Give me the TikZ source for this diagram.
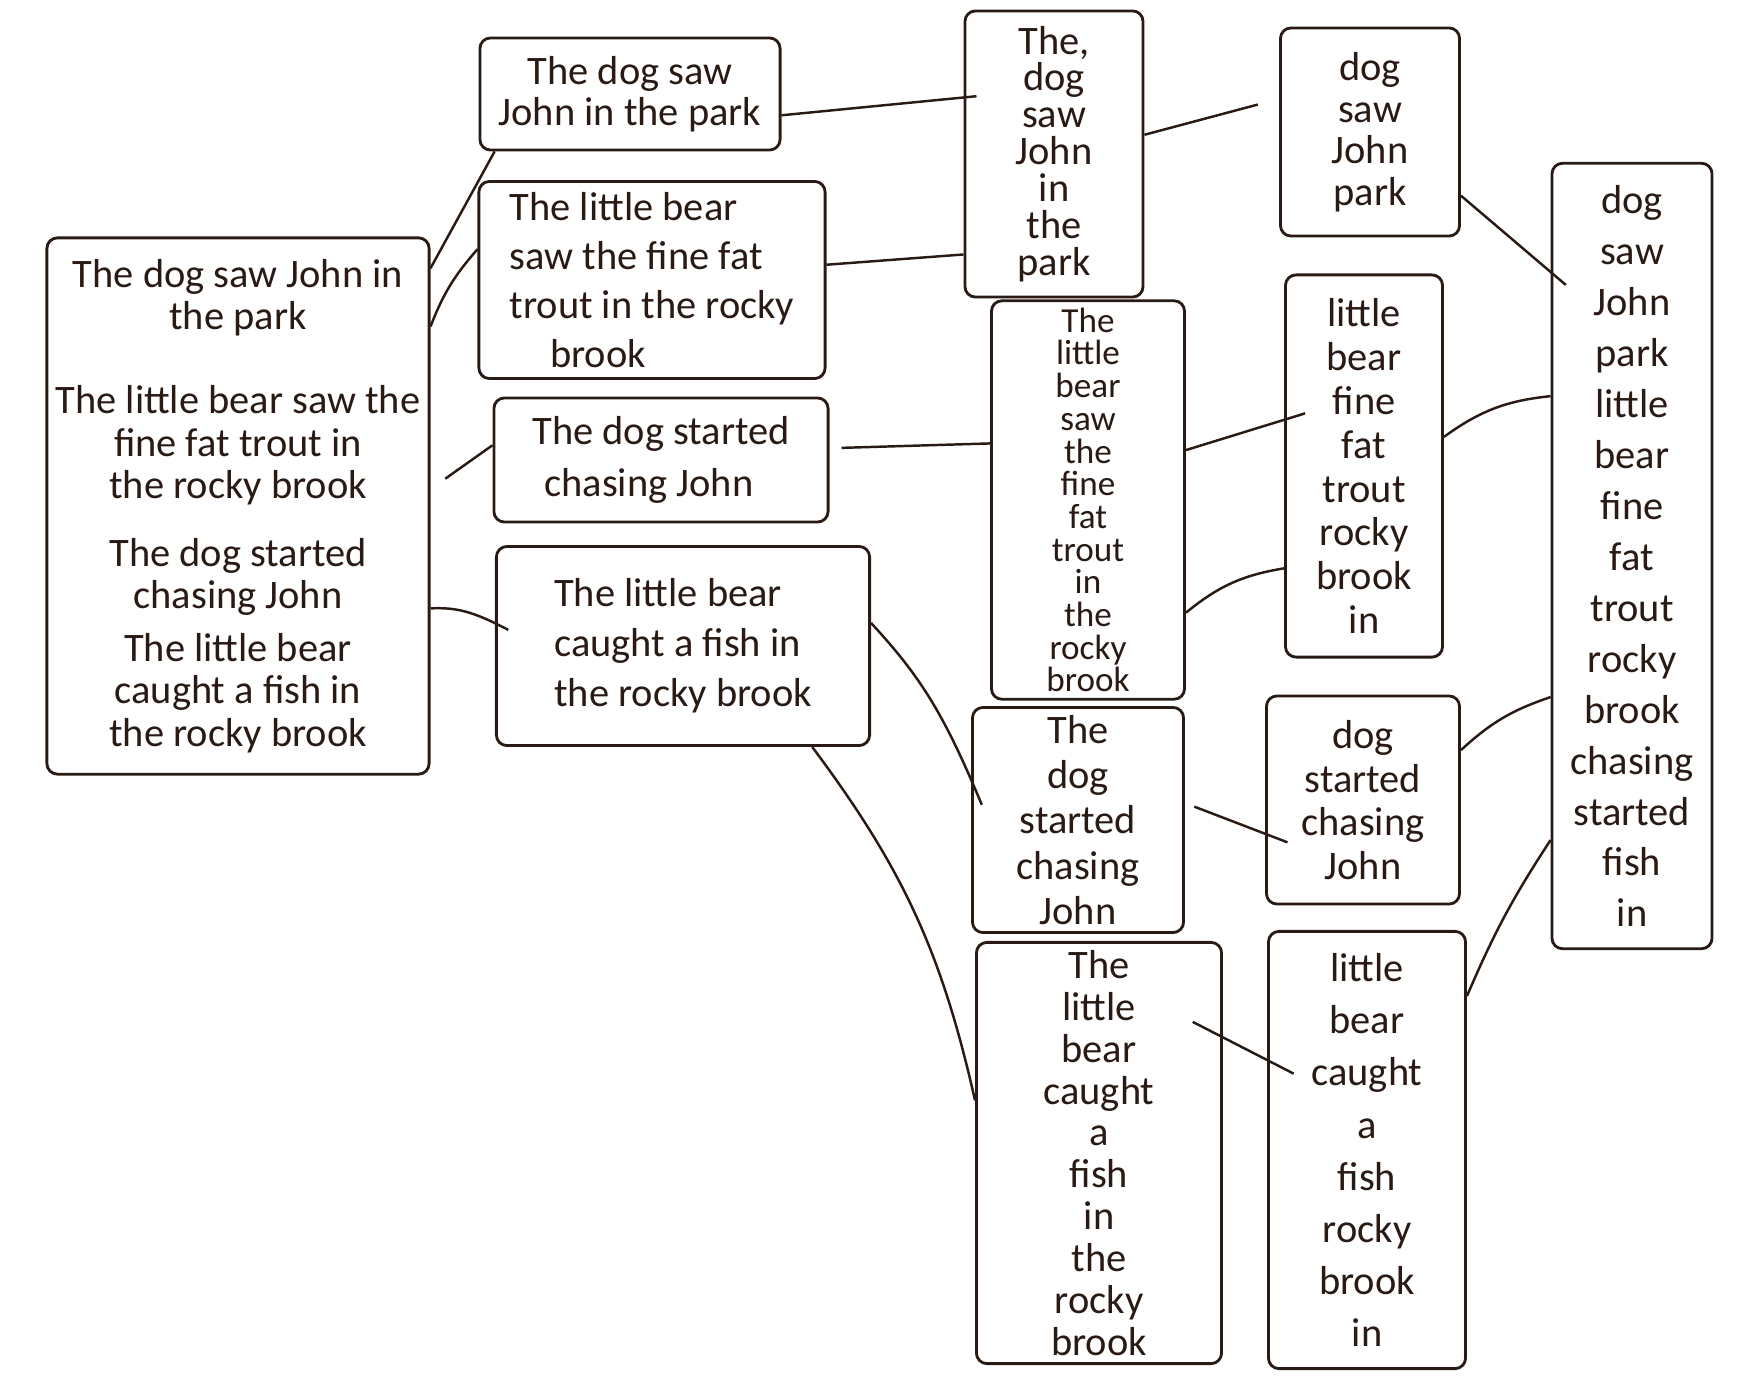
\documentclass[tikz,border=0pt]{standalone}
\usepackage{fontspec}
\setmainfont{Carlito}
\usetikzlibrary{positioning}
\definecolor{ink}{HTML}{2A1A14}
\tikzset{
x=0.01cm, y=-0.01cm, % one unit is one pixel of the sketch, y runs downwards
every node/.style={text=ink}, % handwriting is dark ink
box/.style={draw=ink, line width=0.8pt, rounded corners=3pt, align=center, inner sep=2pt}, % sets the properties for each text box
link/.style={draw=ink, line width=0.7pt}, % lines between the boxes, no heads
}

\begin{document}
\begin{tikzpicture}
    \useasboundingbox (0,0) rectangle (1760,1376);

    % all sentences
    \node[box, minimum width=3.82cm, minimum height=5.36cm, font=\fontsize{11.5}{12.1}\selectfont] (corpus) at (238,506)
        {The dog saw John in\\the park\\[11.8pt]The little bear saw the\\fine fat trout in\\the rocky brook\\[7pt]The dog started\\chasing John\\[2.9pt]The little bear\\caught a fish in\\the rocky brook};

    % one sentence per box
    \node[box, minimum width=3.00cm, minimum height=1.12cm, font=\fontsize{11.5}{11.5}\selectfont] (s1) at (630,94) {The dog saw\\John in the park};
    \node[box, align=left, minimum width=3.46cm, minimum height=1.97cm, font=\fontsize{11.5}{14}\selectfont] (s2) at (652,280) {The little bear\\saw the fine fat\\trout in the rocky\\\hspace{1em}brook};
    \node[box, align=left, minimum width=3.34cm, minimum height=1.24cm, font=\fontsize{11.5}{14.8}\selectfont] (s3) at (661,460) {The dog started\\\hspace{0.3em}chasing John};
    \node[box, align=left, minimum width=3.73cm, minimum height=1.99cm, font=\fontsize{11.5}{14.2}\selectfont] (s4) at (683,646) {The little bear\\caught a fish in\\the rocky brook};

    % tokens
    \node[box, minimum width=1.78cm, minimum height=2.86cm, font=\fontsize{11.5}{10.5}\selectfont] (t1) at (1054,154) {The,\\dog\\saw\\John\\in\\the\\park};
    \node[box, minimum width=1.93cm, minimum height=3.95cm, font=\fontsize{10}{9.3}\selectfont] (t2) at (1088,500) {The\\little\\bear\\saw\\the\\fine\\fat\\trout\\in\\the\\rocky\\brook};
    \node[box, minimum width=2.11cm, minimum height=2.25cm, font=\fontsize{11.5}{12.9}\selectfont] (t3) at (1078,820) {The\\dog\\started\\chasing\\John};
    \node[box, minimum width=2.45cm, minimum height=4.21cm, font=\fontsize{11.5}{11.9}\selectfont] (t4) at (1099,1153) {The\\little\\bear\\caught\\a\\fish\\in\\the\\rocky\\brook};

    % tokens without stop words
    \node[box, minimum width=1.79cm, minimum height=2.08cm, font=\fontsize{11.5}{11.8}\selectfont] (w1) at (1370,132) {dog\\saw\\John\\park};
    \node[box, minimum width=1.57cm, minimum height=3.82cm, font=\fontsize{11.5}{12.5}\selectfont] (w2) at (1364,466) {little\\bear\\fine\\fat\\trout\\rocky\\brook\\in};
    \node[box, minimum width=1.93cm, minimum height=2.08cm, font=\fontsize{11.5}{12.4}\selectfont] (w3) at (1363,800) {dog\\started\\chasing\\John};
    \node[box, minimum width=1.97cm, minimum height=4.37cm, font=\fontsize{11.5}{14.8}\selectfont] (w4) at (1367,1150) {little\\bear\\caught\\a\\fish\\rocky\\brook\\in};

    % vocabulary
    \node[box, minimum width=1.60cm, minimum height=7.85cm, font=\fontsize{11.5}{14.5}\selectfont] (vocab) at (1632,556)
        {dog\\saw\\John\\park\\little\\bear\\fine\\fat\\trout\\rocky\\brook\\chasing\\started\\fish\\in};

    \draw[link]
    (corpus.51) edge (s1.203)
    (corpus.43) edge[bend left=10] (s2.170)
    (corpus.5) edge[shorten <=0.18cm] (s3.175)
    (corpus.332) edge[bend left=15, shorten >=-0.15cm] (s4.173)

    (s1.352) edge[shorten >=-0.13cm] (t1.148)
    (s2.5) edge (t1.228)
    (s3.4) edge[shorten <=0.12cm] (t2.150)
    (s4.7) edge[bend left=10, shorten >=-0.28cm] (t3.159)
    (s4.322) edge[bend left=12] (t4.157)

    (t1.12) edge[shorten >=0.22cm] (w1.160)
    (t2.27) edge[shorten >=-0.22cm] (w2.150)
    (t2.311) edge[bend left=15] (w2.232)
    (t3.9) edge[shorten <=0.1cm, shorten >=-0.24cm] (w3.199)
    (t4.43) edge[shorten <=-0.34cm, shorten >=-0.3cm] (w4.138)

    (w1.325) edge[shorten >=-0.2cm] (vocab.106)
    (w2.20) edge[bend left=15] (vocab.117)
    (w3.27) edge[bend left=12] (vocab.240)
    (w4.57) edge[bend left=5] (vocab.254);
\end{tikzpicture}
\end{document}
